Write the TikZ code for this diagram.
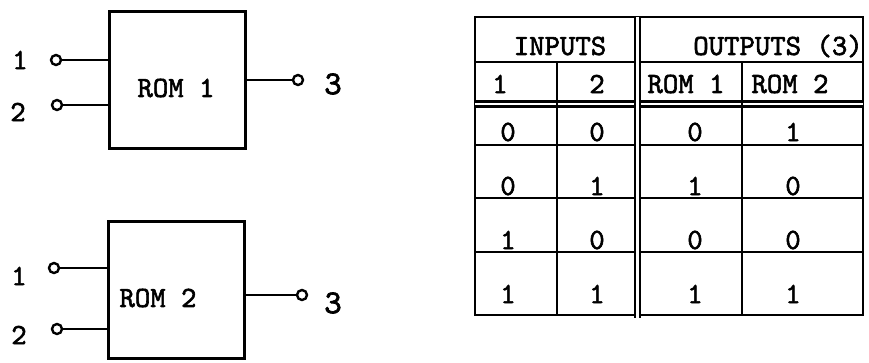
\documentclass[tikz,border=0pt]{standalone}
\usepackage{fontspec}
\setmainfont{lmmono10-regular.otf}[RawFeature={embolden=2}]
\usetikzlibrary{positioning}

\begin{document}
\begin{tikzpicture}[
  x=0.75pt, y=-0.75pt,
  every node/.style={font=\fontsize{22}{26}\selectfont, inner sep=0pt},
  rombox/.style={draw, line width=2.2pt, minimum width=102pt, minimum height=103pt},
  term/.style={circle, draw, line width=1.8pt, fill=white, minimum size=7.5pt},
  wire/.style={line width=1.8pt},
  grid/.style={line width=1.6pt},
  dgrid/.style={grid, double, double distance=2.2pt},
  outlbl/.style={font=\fontsize{25}{29}\selectfont}
]
\useasboundingbox (0,0) rectangle (869,362);

% ROM 1
\node[rombox] (rom1) at (177.5,80) {};
\node (rom1txt) at (176,88) {ROM 1};
\node[term] (a1) at (56,60) {};
\node[term] (a2) at (57,105) {};
\node[term] (a3) at (298,80) {};
\draw[wire] (a1) -- (a1 -| rom1.west);
\draw[wire] (a2) -- (a2 -| rom1.west);
\draw[wire] (a3 -| rom1.east) -- (a3);
\node (la1) at (20,60) {1};
\node (la2) at (18,112) {2};
\node[outlbl] (la3) at (333,84) {3};

% ROM 2
\node[rombox] (rom2) at (176.5,290) {};
\node (rom2txt) at (158,298) {ROM 2};
\node[term] (b1) at (54,268) {};
\node[term] (b2) at (57,329) {};
\node[term] (b3) at (302,295) {};
\draw[wire] (b1) -- (b1 -| rom2.west);
\draw[wire] (b2) -- (b2 -| rom2.west);
\draw[wire] (b3 -| rom2.east) -- (b3);
\node (lb1) at (19,276) {1};
\node (lb2) at (19,335) {2};
\node[outlbl] (lb3) at (333,303) {3};

% Truth table
\draw[grid] (475,17) rectangle (863,315);
\draw[grid] (475,62) -- (863,62);
\draw[dgrid] (475,104) -- (863,104);
\draw[grid] (475,145) -- (863,145);
\draw[grid] (475,198) -- (863,198);
\draw[grid] (475,252) -- (863,252);
\draw[grid] (557,62) -- (557,315);
\draw[dgrid] (637.5,17) -- (637.5,318);
\draw[grid] (742,62) -- (742,315);

\node (hin) at (560,46) {INPUTS};
\node (hout) at (778,46) {OUTPUTS (3)};
\node (hi1) at (500,84) {1};
\node (hi2) at (597,84) {2};
\node (ho1) at (686,84) {ROM 1};
\node (ho2) at (790,84) {ROM 2};

\foreach \p/\q/\r/\s/\ypos [count=\i] in {0/0/0/1/132, 0/1/1/0/186, 1/0/0/0/240, 1/1/1/1/294}{
  \node (c\i a) at (508,\ypos) {\p};
  \node (c\i b) at (597,\ypos) {\q};
  \node (c\i c) at (695,\ypos) {\r};
  \node (c\i d) at (793,\ypos) {\s};
}
\end{tikzpicture}
\end{document}
